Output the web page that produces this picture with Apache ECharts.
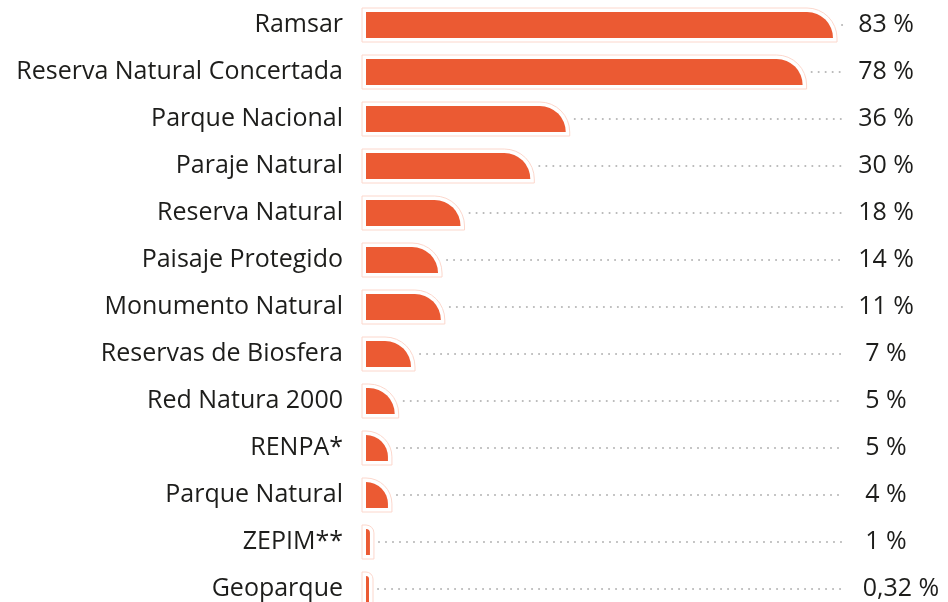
<!DOCTYPE html>
<html>
<head>
<meta charset="utf-8">
<script src="https://cdn.jsdelivr.net/npm/echarts@6/dist/echarts.min.js"></script>
<style>
  html, body { margin: 0; padding: 0; background: #ffffff; }
  #chart { width: 948px; height: 602px; }
</style>
</head>
<body>
<div id="chart"></div>
<script>
// categories, top to bottom
const categories = [
    "Ramsar", "Reserva Natural Concertada", "Parque Nacional", "Paraje Natural",
    "Reserva Natural", "Paisaje Protegido", "Monumento Natural", "Reservas de Biosfera",
    "Red Natura 2000", "RENPA*", "Parque Natural", "ZEPIM**", "Geoparque"
];
// bar lengths as drawn in the picture
const barValues = [83, 77.6, 35.5, 29.2, 16.8, 12.8, 13.3, 8, 5.1, 3.9, 3.9, 0.7, 0.5];
// printed labels on the right
const valueLabels = ["83 %", "78 %", "36 %", "30 %", "18 %", "14 %", "11 %", "7 %", "5 %", "5 %", "4 %", "1 %", "0,32 %"];

const AXIS_MAX = 83;
const BAR_H = 26;
const FONT = "Open Sans";

const chart = echarts.init(document.getElementById("chart"), null, { renderer: "canvas" });

const seriesData = barValues.map(function (v, i) { return [i, v]; });

function renderBar(params, api) {
    const idx = api.value(0);
    const val = api.value(1);
    const start = api.coord([0, idx]);
    const end = api.coord([val, idx]);
    const lineEnd = api.coord([AXIS_MAX, idx])[0] + 10;
    const w = Math.max(end[0] - start[0], 3);
    const y = start[1] - BAR_H / 2;
    const r = Math.min(BAR_H, w);
    const outerR = Math.min(BAR_H + 4, w + 4);
    return {
        type: "group",
        children: [
            {
                type: "line",
                shape: { x1: start[0] + w + 9, y1: start[1], x2: lineEnd, y2: start[1] },
                style: { stroke: "#b8b8b8", lineWidth: 2, lineDash: [0.1, 6.9], lineCap: "round" }
            },
            {
                type: "rect",
                shape: { x: start[0] - 4, y: y - 4, width: w + 8, height: BAR_H + 8, r: [0, outerR, 0, 0] },
                style: { fill: "#ffffff", stroke: "#fcd7cc", lineWidth: 1 }
            },
            {
                type: "rect",
                shape: { x: start[0], y: y, width: w, height: BAR_H, r: [0, r, 0, 0] },
                style: { fill: "#eb5a33" }
            }
        ]
    };
}

const option = {
    animation: false,
    textStyle: { fontFamily: FONT },
    grid: { left: 366, right: 115, top: 1.5, height: 611, containLabel: false, outerBoundsMode: "none" },
    xAxis: {
        type: "value",
        min: 0,
        max: AXIS_MAX,
        show: false
    },
    yAxis: [
        {
            type: "category",
            data: categories,
            inverse: true,
            axisLine: { show: false },
            axisTick: { show: false },
            axisLabel: { fontSize: 25, color: "#1d1d1b", margin: 23, fontFamily: FONT }
        },
        {
            type: "category",
            data: valueLabels,
            inverse: true,
            position: "right",
            axisLine: { show: false },
            axisTick: { show: false },
            axisLabel: {
                fontSize: 25, color: "#1d1d1b", margin: 53, align: "center", fontFamily: FONT,
                formatter: function (v) { return v === "0,32 %" ? "{o|" + v + "}" : v; },
                rich: { o: { fontSize: 25, color: "#1d1d1b", fontFamily: FONT, padding: [0, 0, 0, 30] } }
            }
        }
    ],
    series: [
        {
            type: "custom",
            clip: false,
            renderItem: renderBar,
            encode: { x: 1, y: 0 },
            data: seriesData
        }
    ]
};

chart.setOption(option);
</script>
</body>
</html>
